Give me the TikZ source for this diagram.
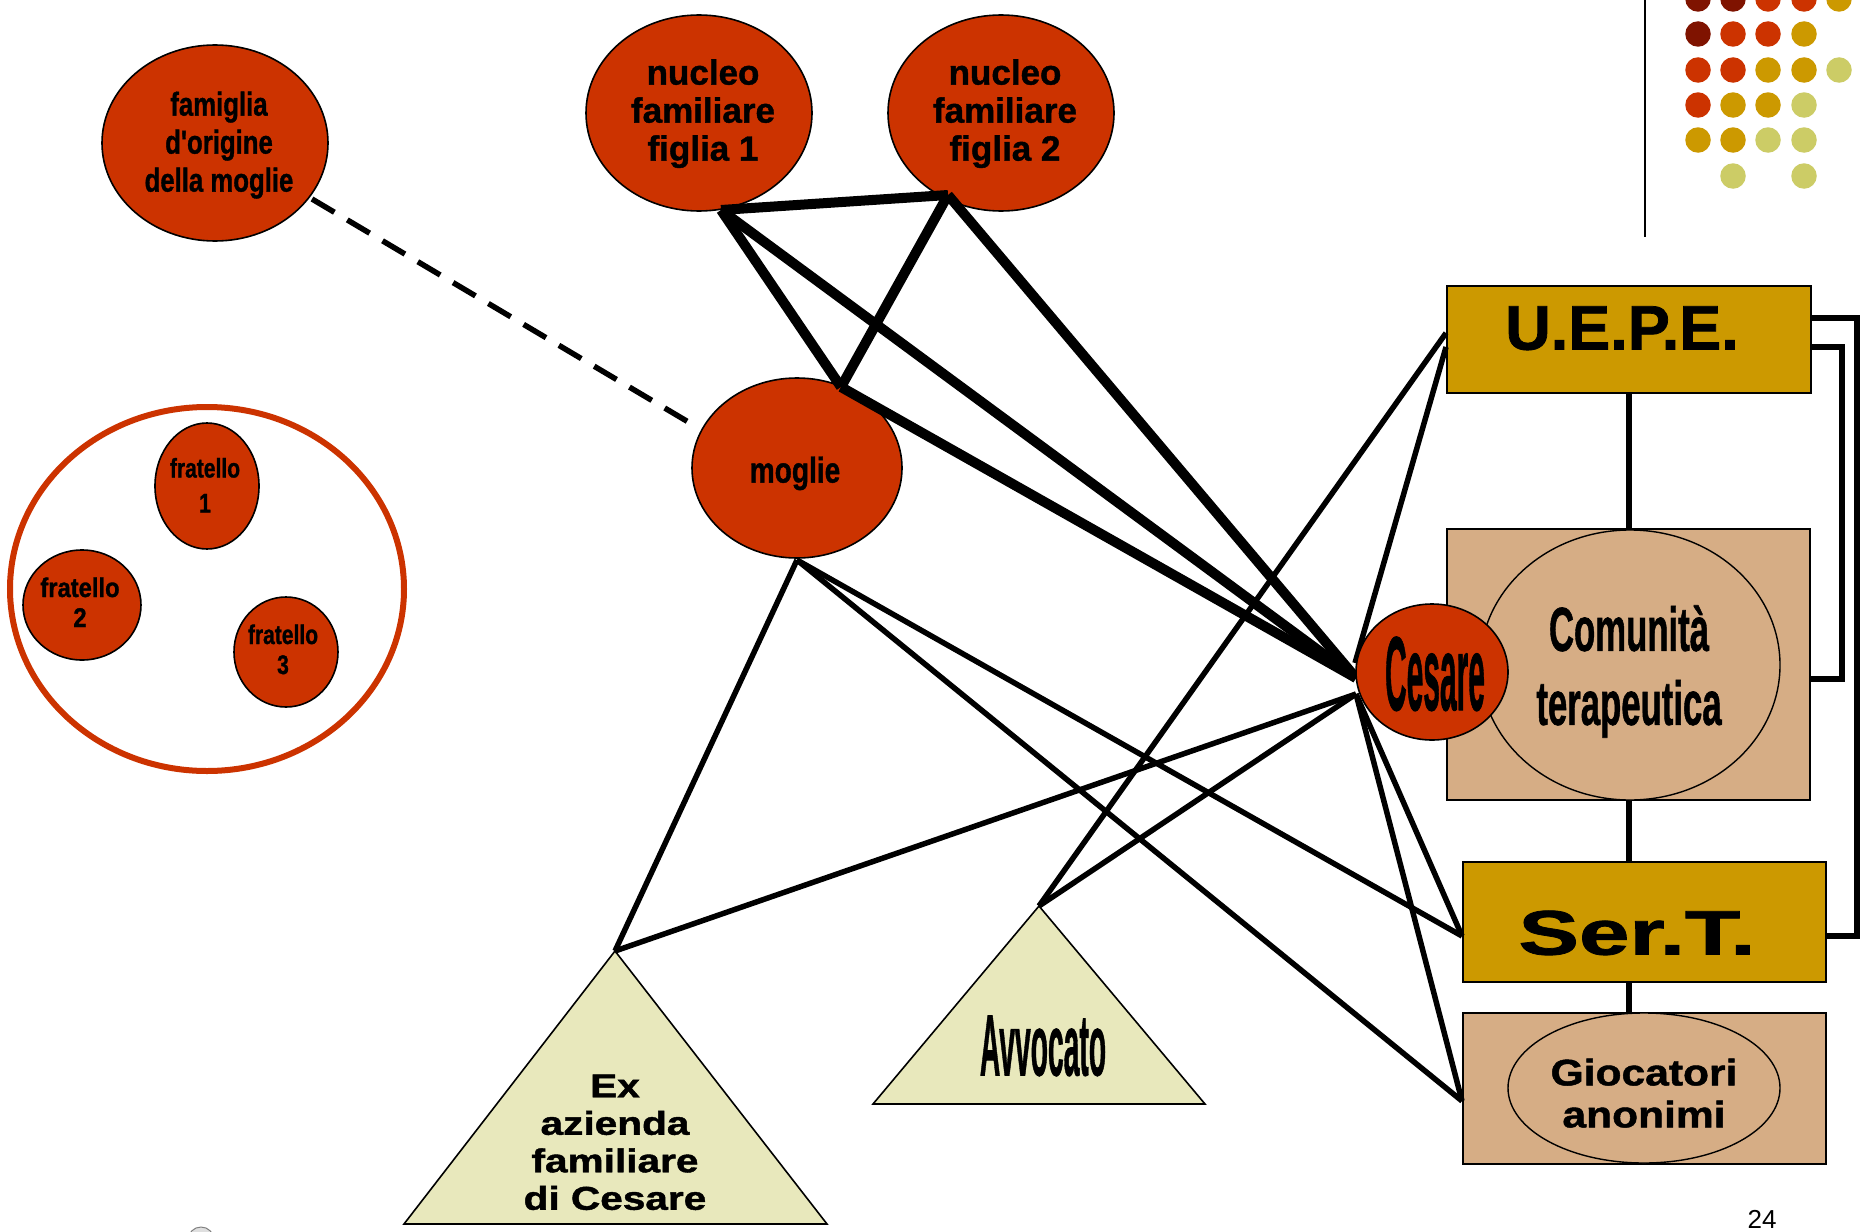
\documentclass[tikz,border=0pt]{standalone}
\usepackage{fontspec}
\usepackage{graphicx}
\setmainfont{Liberation Sans}[Ligatures=TeXOff,BoldFeatures={FakeBold=1.2}]
\definecolor{cred}{HTML}{CC3300}
\definecolor{cdark}{HTML}{7F1300}
\definecolor{cgold}{HTML}{CC9900}
\definecolor{clight}{HTML}{CCCC66}
\definecolor{ctan}{HTML}{D6AD85}
\definecolor{cpale}{HTML}{E8E8BC}
\newcommand{\lab}[4]{\scalebox{#3}[1]{\fontsize{#1}{#2}\selectfont\bfseries\begin{tabular}{@{}c@{}}#4\end{tabular}}}
\tikzset{
  x=1pt,y=-1pt,
  txt/.style={inner sep=0pt,outer sep=0pt,text=black},
  blob/.style={draw=black,line width=1.6pt,fill=cred},
  tanbox/.style={draw=black,line width=1.4pt,fill=ctan},
  goldbox/.style={draw=black,line width=1.6pt,fill=cgold},
  tanoval/.style={draw=black,line width=1.4pt,fill=ctan},
  tri/.style={draw=black,line width=1.6pt,fill=cpale,line join=miter},
  heavy/.style={line width=10pt},
  medium/.style={line width=5.5pt},
  link/.style={line width=5.5pt,line join=miter},
  dashlink/.style={line width=5.5pt,dash pattern=on 26pt off 15pt},
  dot/.style={circle,inner sep=0pt,minimum size=25.5pt,fill=#1}
}
\begin{document}
\begin{tikzpicture}
\useasboundingbox (0,0) rectangle (1865,1231);
\fill[white] (0,0) rectangle (1865,1231);
% decoration
\coordinate (rtop) at (1645,0); \coordinate (rbot) at (1645,237);
\draw[line width=1.6pt] (rtop) -- (rbot);
\foreach \cx/\cy/\cc in {1698/-1/cdark,1733/-1/cdark,1768/-1/cred,1804/-1/cred,1839/-1/cgold,
 1698/34/cdark,1733/34/cred,1768/34/cred,1804/34/cgold,
 1698/70/cred,1733/70/cred,1768/70/cgold,1804/70/cgold,1839/70/clight,
 1698/105/cred,1733/105/cgold,1768/105/cgold,1804/105/clight,
 1698/140/cgold,1733/140/cgold,1768/140/clight,1804/140/clight,
 1733/176/clight,1804/176/clight}
 \node[dot=\cc] (d\cx-\cy) at (\cx,\cy) {};
\begin{scope}
\clip (0,0) rectangle (1865,1231);
\draw[gray,line width=1pt,fill=gray!25] (201,1240) circle (13);
\end{scope}
% anchor points
\coordinate (pa) at (721,210);
\coordinate (pb) at (948,195);
\coordinate (pc) at (841,387);
\coordinate (ces) at (1356,678);
\coordinate (ces2) at (1356,694);
\coordinate (ces3) at (1355,663);
\coordinate (mog) at (797,560);
\coordinate (exa) at (615,951);
\coordinate (ava) at (1039,906);
\coordinate (ue1) at (1446,333);
\coordinate (ue2) at (1446,347);
\coordinate (st) at (1462,936);
\coordinate (ga) at (1462,1101);
\coordinate (df) at (312,199);
\coordinate (dm) at (690,423);
% shapes
\path[tanbox] (1447,529) rectangle (1810,800);
\draw[link] (1629,393) -- (1629,529);
\draw[link] (1629,800) -- (1629,862);
\draw[link] (1629,982) -- (1629,1013);
\draw[link] (1811,318) -- (1857,318) -- (1857,936) -- (1826,936);
\draw[link] (1811,347) -- (1842,347) -- (1842,679) -- (1810,679);
\path[goldbox] (1447,286) rectangle (1811,393);
\path[goldbox] (1463,862) rectangle (1826,982);
\path[tanbox] (1463,1013) rectangle (1826,1164);
\path[tanoval] (1630,665) ellipse [x radius=150,y radius=135];
\path[tanoval] (1644,1088) ellipse [x radius=136,y radius=75];
\path[blob] (215,143) ellipse [x radius=113,y radius=98];
\path[blob] (699,113) ellipse [x radius=113,y radius=98];
\path[blob] (1001,113) ellipse [x radius=113,y radius=98];
\path[blob] (797,468) ellipse [x radius=105,y radius=90];
\draw[cred,line width=6pt] (207,589) ellipse [x radius=197,y radius=182];
\path[blob] (207,486) ellipse [x radius=52,y radius=63];
\path[blob] (82,605) ellipse [x radius=59,y radius=55];
\path[blob] (286,652) ellipse [x radius=52,y radius=55];
\path[tri] (exa) -- (404,1224) -- (827,1224) -- cycle;
\path[tri] (ava) -- (873,1104) -- (1205,1104) -- cycle;
% connectors
\draw[dashlink] (df) -- (dm);
\draw[heavy] (pa) -- (pb);
\draw[heavy] (pa) -- (pc);
\draw[heavy] (pb) -- (pc);
\draw[heavy] (pa) -- (ces);
\draw[heavy] (pb) -- (ces);
\draw[heavy] (pc) -- (ces);
\draw[medium] (mog) -- (exa);
\draw[medium] (mog) -- (st);
\draw[medium] (mog) -- (ga);
\draw[medium] (ces2) -- (exa);
\draw[medium] (ces2) -- (ava);
\draw[medium] (ava) -- (ue1);
\draw[medium] (ces3) -- (ue2);
\draw[medium] (ces2) -- (st);
\draw[medium] (ces2) -- (ga);
\path[blob] (1432,672) ellipse [x radius=76,y radius=68];
% labels
\node[txt] (tfam) at (219,146) {\lab{33}{38}{.78}{famiglia\\d'origine\\della moglie}};
\node[txt] (tf1) at (703,115) {\lab{35}{38}{1}{nucleo\\familiare\\figlia 1}};
\node[txt] (tf2) at (1005,115) {\lab{35}{38}{1}{nucleo\\familiare\\figlia 2}};
\node[txt] (tmog) at (795,475) {\lab{36}{38}{.78}{moglie}};
\node[txt] (tfr1) at (205,488) {\lab{27}{35}{.78}{fratello\\1}};
\node[txt] (tfr2) at (80,606) {\lab{27}{30}{.88}{fratello\\2}};
\node[txt] (tfr3) at (283,653) {\lab{27}{30}{.78}{fratello\\3}};
\node[txt] (tces) at (1435,689) {\lab{105}{105}{.285}{Cesare}};
\node[txt] (tuepe) at (1622,337) {\lab{63}{63}{1}{U.E.P.E.}};
\node[txt] (tcom) at (1629,673) {\lab{62}{74}{.56}{Comunità\\terapeutica}};
\node[txt] (tser) at (1637,942) {\lab{63}{63}{1.44}{Ser.T.}};
\node[txt] (tgio) at (1644,1098) {\lab{37}{42}{1.15}{Giocatori\\anonimi}};
\node[txt] (tex) at (615,1146) {\lab{33}{37.5}{1.23}{Ex\\azienda\\familiare\\di Cesare}};
\node[txt] (tavv) at (1043,1058) {\lab{87}{87}{.325}{Avvocato}};
\node[txt] (tnum) at (1762,1219) {\fontsize{26}{26}\selectfont 24};
\end{tikzpicture}
\end{document}
